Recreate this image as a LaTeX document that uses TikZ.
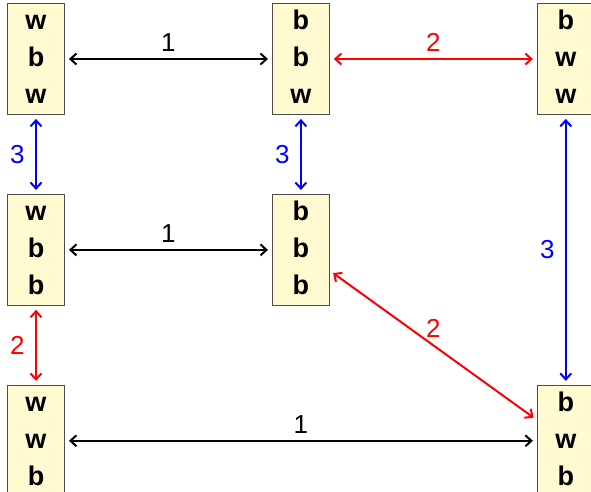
\documentclass[tikz,border=0pt]{standalone}
\usepackage{fontspec}
\setmainfont{Liberation Sans}
\usetikzlibrary{positioning,arrows.meta}
\definecolor{boxgelb}{RGB}{255,250,208}

\begin{document}
\begin{tikzpicture}[x=1pt, y=-1pt, node distance=79pt and 207pt,
        >={Straight Barb[length=6pt,width=11pt]},
        config/.style={draw=black!70, line width=0.9pt, fill=boxgelb, rectangle,
            minimum width=57pt, minimum height=110pt, inner sep=0pt, align=center,
            font=\fontsize{27}{37}\selectfont\bfseries},
        link/.style={<->, line width=2pt, shorten <=4pt, shorten >=4pt},
        num/.style={font=\fontsize{26}{30}\selectfont}]
        \useasboundingbox (0,0) rectangle (591,492);

        \node[config] (wbw) at (36,59) {w\strut\\b\strut\\w\strut};
        \node[config, right=of wbw] (bbw) {b\strut\\b\strut\\w\strut};
        \node[config, right=of bbw] (bww) {b\strut\\w\strut\\w\strut};
        \node[config, below=of wbw] (wbb) {w\strut\\b\strut\\b\strut};
        \node[config, below=of bbw] (bbb) {b\strut\\b\strut\\b\strut};
        \node[config, below=of wbb] (wwb) {w\strut\\w\strut\\b\strut};
        \node[config] (bwb) at (bww |- wwb) {b\strut\\w\strut\\b\strut};

        \draw[link] (wbw) -- node[num, above=3pt] {1} (bbw);
        \draw[link] (wbb) -- node[num, above=3pt] {1} (bbb);
        \draw[link] (wwb) -- node[num, above=3pt] {1} (bwb);
        \draw[link, red] (bbw) -- node[num, above=3pt] {2} (bww);
        \draw[link, red] (wbb) -- node[num, left=7pt] {2} (wwb);
        \draw[link, red] (bbb) -- node[num, above=4pt] {2} (bwb);
        \draw[link, blue] (wbw) -- node[num, left=7pt] {3} (wbb);
        \draw[link, blue] (bbw) -- node[num, left=7pt] {3} (bbb);
        \draw[link, blue] (bww) -- node[num, left=7pt] {3} (bwb);
    \end{tikzpicture}
\end{document}
